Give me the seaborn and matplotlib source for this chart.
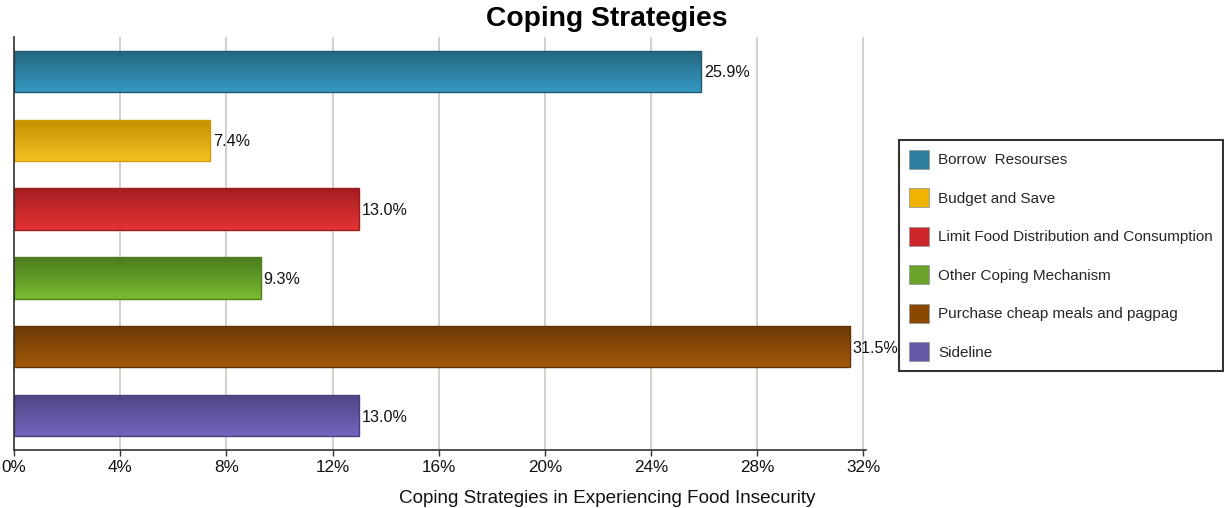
import numpy as np
import matplotlib
matplotlib.use("Agg")
import matplotlib.pyplot as plt
from matplotlib.patches import Patch
from matplotlib.colors import to_rgb
import seaborn as sns

# Survey results: share of respondents per coping strategy
categories = [
    "Borrow  Resourses",
    "Budget and Save",
    "Limit Food Distribution and Consumption",
    "Other Coping Mechanism",
    "Purchase cheap meals and pagpag",
    "Sideline",
]
percentages = [25.9, 7.4, 13.0, 9.3, 31.5, 13.0]
x_ticks = [0, 4, 8, 12, 16, 20, 24, 28, 32]

# Base colour per strategy, plus darker top / lighter bottom shades for the bar gradient
base_colors = ["#2E7EA0", "#F0B400", "#CC2529", "#6AA22A", "#8B4800", "#6656A6"]
top_colors = ["#24667F", "#C48E00", "#A51D22", "#4C7C1E", "#6B3806", "#4E4584"]
bottom_colors = ["#3699C3", "#F7C125", "#E43333", "#79BB30", "#A3590A", "#7664BF"]
edge_colors = ["#1F5A73", "#D19A00", "#9A1A1E", "#4F7F1F", "#603204", "#4A4080"]

sns.set_style("white")
plt.rcParams["font.family"] = ["Liberation Sans", "DejaVu Sans"]

fig = plt.figure(figsize=(12.24, 5.08), dpi=100)
ax = fig.add_axes([14 / 1224, 58 / 508, 852 / 1224, 413 / 508])

sns.barplot(
    x=percentages, y=categories, hue=categories, palette=base_colors,
    orient="h", width=0.6, legend=False, ax=ax, saturation=1,
)

# Vertical gradient fill clipped to each bar
for patch, top, bottom, edge in zip(ax.patches, top_colors, bottom_colors, edge_colors):
    bb = patch.get_bbox()
    t = np.linspace(0, 1, 64)[:, None]
    grad = (1 - t) * np.array(to_rgb(top)) + t * np.array(to_rgb(bottom))
    img = ax.imshow(
        grad[:, None, :].repeat(2, axis=1),
        extent=[bb.x0, bb.x1, bb.y1, bb.y0],
        aspect="auto", zorder=1.5, interpolation="bilinear",
    )
    img.set_clip_path(patch)
    patch.set_facecolor("none")
    patch.set_edgecolor(edge)
    patch.set_linewidth(1.0)
    patch.set_zorder(2)

ax.set_xlim(0, 32.1)
ax.set_ylim(5.5, -0.5)

# Value labels at the end of each bar
for i, v in enumerate(percentages):
    ax.text(v + 0.1, i, f"{v:.1f}%", va="center_baseline", ha="left",
            fontsize=11.6, color="#111111", zorder=3)

ax.set_xticks(x_ticks)
ax.set_xticklabels([f"{t}%" for t in x_ticks], fontsize=12.3, color="#111111")
ax.set_yticks([])
ax.set_ylabel("")
ax.tick_params(axis="x", direction="out", length=4, width=1, color="#333333", pad=3, bottom=True)

ax.set_axisbelow(True)
ax.grid(axis="x", color="#C8C8C8", linewidth=1.2)
ax.grid(axis="y", visible=False)
for side in ["top", "right"]:
    ax.spines[side].set_visible(False)
for side in ["left", "bottom"]:
    ax.spines[side].set_color("#333333")
    ax.spines[side].set_linewidth(1.2)

ax.set_xlabel("Coping Strategies in Experiencing Food Insecurity", fontsize=13.6, color="#111111")
ax.xaxis.set_label_coords((607 - 14) / 852, -0.098)

fig.text(0.496, 0.962, "Coping Strategies", ha="center", va="center",
         fontsize=20.3, fontweight="bold", color="#000000")

handles = [Patch(facecolor=c, edgecolor="#999999", linewidth=0.6) for c in base_colors]
leg = fig.legend(
    handles, categories, loc="center left", bbox_to_anchor=(899 / 1224, 0.497),
    frameon=True, fancybox=False, fontsize=11.0, handlelength=1.3, handleheight=1.5,
    labelspacing=1.3, handletextpad=0.6, borderpad=0.65, borderaxespad=0,
)
leg.get_frame().set_edgecolor("#000000")
leg.get_frame().set_linewidth(1.5)

fig.savefig("out.png", dpi=100)
